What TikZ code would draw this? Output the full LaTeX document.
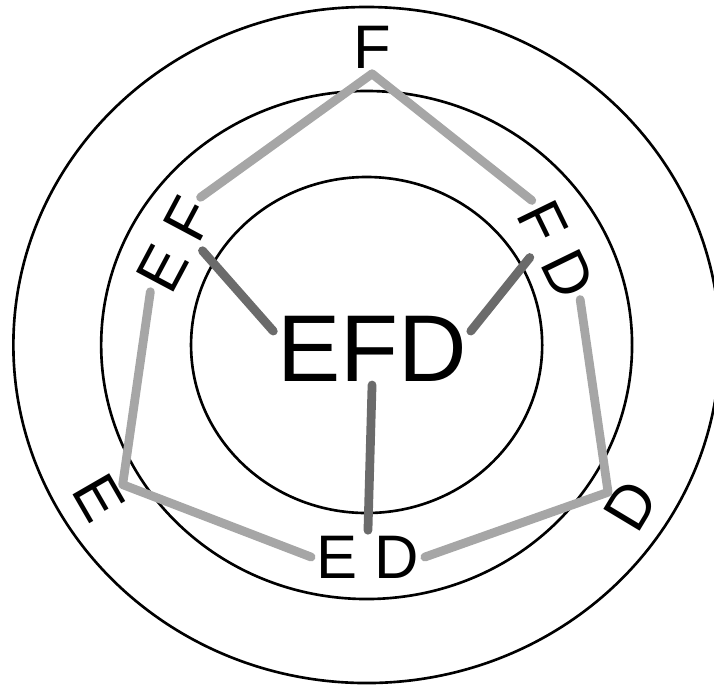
\documentclass[tikz,border=0pt]{standalone}
\usepackage{fontspec}
\setmainfont{Liberation Sans}

\begin{document}
\begin{tikzpicture}[
  x=0.0209cm, y=0.02cm,
  ring/.style={draw=black, line width=1.5pt},
  lbl/.style={font=\fontsize{35}{35}\selectfont, inner sep=3pt},
  core/.style={font=\fontsize{54}{54}\selectfont, inner sep=2pt},
  edge/.style={line width=5pt, draw=black!35, line cap=round, line join=round},
  spoke/.style={line width=5pt, draw=black!58, line cap=round},
]
\useasboundingbox (-350.8,-340) rectangle (332.4,345);

% Concentric rings
\draw[ring] (0,0) circle[radius=338];
\draw[ring] (0,0) circle[radius=254];
\draw[ring] (0,0) circle[radius=168];

% Centre
\node[core] (EFD) at (5.2,-3.5) {EFD};

% Middle ring: pairs
\node[lbl, rotate=62] (EF) at (-182.9,100.5) {E F};
\node[lbl, rotate=-64] (FD) at (181.2,95) {F D};
\node[lbl] (ED) at (1.3,-212) {E D};

% Outer ring: singles
\node[lbl] (F) at (5.2,298) {F};
\node[lbl, rotate=-60] (E) at (-255.6,-153) {E};
\node[lbl, rotate=59] (D) at (253,-161) {D};

% Light edges between neighbours
\draw[edge] (F.south) -- (EF.east) (EF.west) -- (E.north) -- (ED.west)
  (ED.east) -- (D.north) -- (FD.east) (FD.west) -- (F.south);

% Dark spokes to the centre
\draw[spoke] (EFD.170) -- (EF.-75);
\draw[spoke] (EFD.10) -- (FD.-100);
\draw[spoke] (EFD.south) -- (ED.north);

\end{tikzpicture}
\end{document}
